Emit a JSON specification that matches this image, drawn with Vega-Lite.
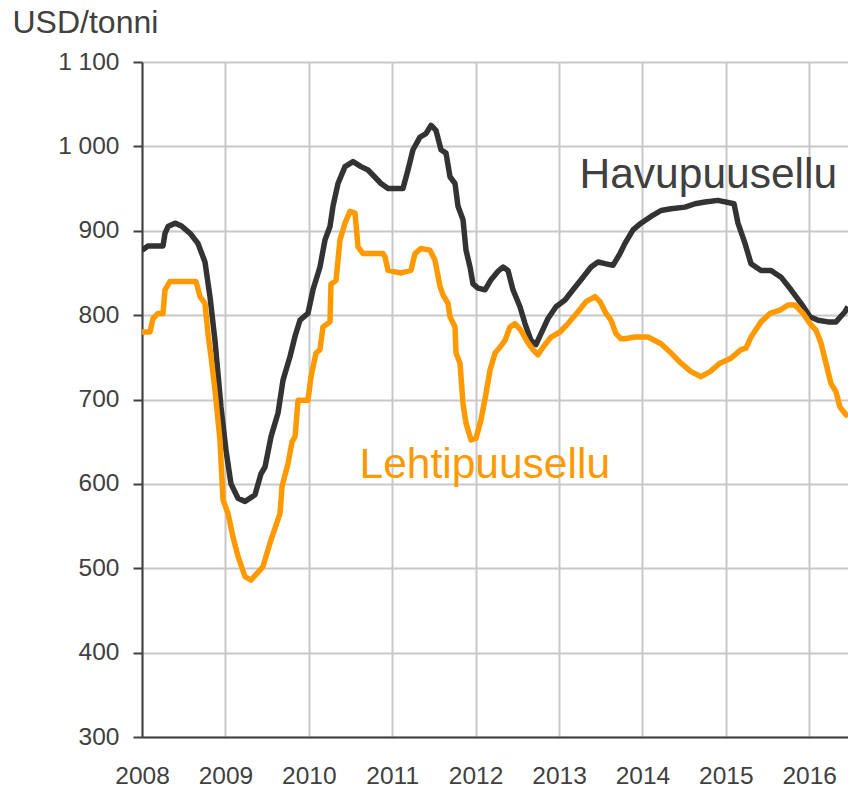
{
  "$schema": "https://vega.github.io/schema/vega-lite/v6.json",
  "width": 706,
  "height": 675,
  "autosize": {"type": "none"},
  "padding": {"left": 142, "top": 62, "right": 0, "bottom": 52},
  "background": "white",
  "config": {
    "view": {"stroke": null},
    "font": "Liberation Sans",
    "axis": {
      "labelFont": "Liberation Sans",
      "titleFont": "Liberation Sans",
      "labelColor": "#404040",
      "labelFontSize": 24.5,
      "gridColor": "#c8c8c8",
      "gridWidth": 2,
      "domainColor": "#404040",
      "domainWidth": 2,
      "tickColor": "#404040",
      "tickWidth": 2
    }
  },
  "datasets": {
    "prices": [
      {"series": "Havupuusellu", "t": 2008.000, "v": 877},
      {"series": "Havupuusellu", "t": 2008.072, "v": 882},
      {"series": "Havupuusellu", "t": 2008.252, "v": 882},
      {"series": "Havupuusellu", "t": 2008.276, "v": 897},
      {"series": "Havupuusellu", "t": 2008.312, "v": 905},
      {"series": "Havupuusellu", "t": 2008.396, "v": 909},
      {"series": "Havupuusellu", "t": 2008.468, "v": 906},
      {"series": "Havupuusellu", "t": 2008.576, "v": 897},
      {"series": "Havupuusellu", "t": 2008.671, "v": 885},
      {"series": "Havupuusellu", "t": 2008.755, "v": 863},
      {"series": "Havupuusellu", "t": 2008.815, "v": 822},
      {"series": "Havupuusellu", "t": 2008.875, "v": 770},
      {"series": "Havupuusellu", "t": 2008.947, "v": 691},
      {"series": "Havupuusellu", "t": 2009.007, "v": 640},
      {"series": "Havupuusellu", "t": 2009.067, "v": 600},
      {"series": "Havupuusellu", "t": 2009.151, "v": 583},
      {"series": "Havupuusellu", "t": 2009.235, "v": 579},
      {"series": "Havupuusellu", "t": 2009.355, "v": 587},
      {"series": "Havupuusellu", "t": 2009.427, "v": 612},
      {"series": "Havupuusellu", "t": 2009.475, "v": 620},
      {"series": "Havupuusellu", "t": 2009.547, "v": 656},
      {"series": "Havupuusellu", "t": 2009.631, "v": 684},
      {"series": "Havupuusellu", "t": 2009.691, "v": 723},
      {"series": "Havupuusellu", "t": 2009.775, "v": 751},
      {"series": "Havupuusellu", "t": 2009.835, "v": 775},
      {"series": "Havupuusellu", "t": 2009.894, "v": 794},
      {"series": "Havupuusellu", "t": 2009.990, "v": 802},
      {"series": "Havupuusellu", "t": 2010.050, "v": 830},
      {"series": "Havupuusellu", "t": 2010.134, "v": 857},
      {"series": "Havupuusellu", "t": 2010.194, "v": 889},
      {"series": "Havupuusellu", "t": 2010.254, "v": 905},
      {"series": "Havupuusellu", "t": 2010.290, "v": 929},
      {"series": "Havupuusellu", "t": 2010.350, "v": 956},
      {"series": "Havupuusellu", "t": 2010.434, "v": 976},
      {"series": "Havupuusellu", "t": 2010.530, "v": 982},
      {"series": "Havupuusellu", "t": 2010.626, "v": 976},
      {"series": "Havupuusellu", "t": 2010.710, "v": 972},
      {"series": "Havupuusellu", "t": 2010.866, "v": 956},
      {"series": "Havupuusellu", "t": 2010.950, "v": 950},
      {"series": "Havupuusellu", "t": 2011.129, "v": 950},
      {"series": "Havupuusellu", "t": 2011.189, "v": 972},
      {"series": "Havupuusellu", "t": 2011.249, "v": 996},
      {"series": "Havupuusellu", "t": 2011.333, "v": 1011},
      {"series": "Havupuusellu", "t": 2011.405, "v": 1015},
      {"series": "Havupuusellu", "t": 2011.465, "v": 1025},
      {"series": "Havupuusellu", "t": 2011.525, "v": 1019},
      {"series": "Havupuusellu", "t": 2011.585, "v": 996},
      {"series": "Havupuusellu", "t": 2011.645, "v": 992},
      {"series": "Havupuusellu", "t": 2011.693, "v": 964},
      {"series": "Havupuusellu", "t": 2011.753, "v": 956},
      {"series": "Havupuusellu", "t": 2011.789, "v": 929},
      {"series": "Havupuusellu", "t": 2011.849, "v": 913},
      {"series": "Havupuusellu", "t": 2011.885, "v": 877},
      {"series": "Havupuusellu", "t": 2011.933, "v": 857},
      {"series": "Havupuusellu", "t": 2011.969, "v": 837},
      {"series": "Havupuusellu", "t": 2012.029, "v": 832},
      {"series": "Havupuusellu", "t": 2012.113, "v": 830},
      {"series": "Havupuusellu", "t": 2012.185, "v": 842},
      {"series": "Havupuusellu", "t": 2012.269, "v": 852},
      {"series": "Havupuusellu", "t": 2012.329, "v": 857},
      {"series": "Havupuusellu", "t": 2012.388, "v": 853},
      {"series": "Havupuusellu", "t": 2012.448, "v": 830},
      {"series": "Havupuusellu", "t": 2012.532, "v": 810},
      {"series": "Havupuusellu", "t": 2012.592, "v": 790},
      {"series": "Havupuusellu", "t": 2012.664, "v": 770},
      {"series": "Havupuusellu", "t": 2012.724, "v": 765},
      {"series": "Havupuusellu", "t": 2012.784, "v": 778},
      {"series": "Havupuusellu", "t": 2012.868, "v": 796},
      {"series": "Havupuusellu", "t": 2012.964, "v": 810},
      {"series": "Havupuusellu", "t": 2013.072, "v": 818},
      {"series": "Havupuusellu", "t": 2013.168, "v": 830},
      {"series": "Havupuusellu", "t": 2013.264, "v": 842},
      {"series": "Havupuusellu", "t": 2013.384, "v": 857},
      {"series": "Havupuusellu", "t": 2013.468, "v": 863},
      {"series": "Havupuusellu", "t": 2013.552, "v": 861},
      {"series": "Havupuusellu", "t": 2013.647, "v": 859},
      {"series": "Havupuusellu", "t": 2013.731, "v": 873},
      {"series": "Havupuusellu", "t": 2013.791, "v": 885},
      {"series": "Havupuusellu", "t": 2013.887, "v": 901},
      {"series": "Havupuusellu", "t": 2013.983, "v": 909},
      {"series": "Havupuusellu", "t": 2014.103, "v": 917},
      {"series": "Havupuusellu", "t": 2014.223, "v": 924},
      {"series": "Havupuusellu", "t": 2014.343, "v": 926},
      {"series": "Havupuusellu", "t": 2014.511, "v": 928},
      {"series": "Havupuusellu", "t": 2014.631, "v": 932},
      {"series": "Havupuusellu", "t": 2014.751, "v": 934},
      {"series": "Havupuusellu", "t": 2014.906, "v": 936},
      {"series": "Havupuusellu", "t": 2015.098, "v": 932},
      {"series": "Havupuusellu", "t": 2015.146, "v": 909},
      {"series": "Havupuusellu", "t": 2015.230, "v": 885},
      {"series": "Havupuusellu", "t": 2015.302, "v": 861},
      {"series": "Havupuusellu", "t": 2015.422, "v": 853},
      {"series": "Havupuusellu", "t": 2015.542, "v": 853},
      {"series": "Havupuusellu", "t": 2015.662, "v": 845},
      {"series": "Havupuusellu", "t": 2015.782, "v": 830},
      {"series": "Havupuusellu", "t": 2015.902, "v": 814},
      {"series": "Havupuusellu", "t": 2016.010, "v": 798},
      {"series": "Havupuusellu", "t": 2016.106, "v": 794},
      {"series": "Havupuusellu", "t": 2016.225, "v": 792},
      {"series": "Havupuusellu", "t": 2016.321, "v": 792},
      {"series": "Havupuusellu", "t": 2016.429, "v": 804},
      {"series": "Havupuusellu", "t": 2016.465, "v": 810},
      {"series": "Lehtipuusellu", "t": 2008.000, "v": 780},
      {"series": "Lehtipuusellu", "t": 2008.096, "v": 780},
      {"series": "Lehtipuusellu", "t": 2008.132, "v": 796},
      {"series": "Lehtipuusellu", "t": 2008.192, "v": 802},
      {"series": "Lehtipuusellu", "t": 2008.252, "v": 802},
      {"series": "Lehtipuusellu", "t": 2008.276, "v": 830},
      {"series": "Lehtipuusellu", "t": 2008.336, "v": 840},
      {"series": "Lehtipuusellu", "t": 2008.647, "v": 840},
      {"series": "Lehtipuusellu", "t": 2008.695, "v": 822},
      {"series": "Lehtipuusellu", "t": 2008.755, "v": 814},
      {"series": "Lehtipuusellu", "t": 2008.791, "v": 778},
      {"series": "Lehtipuusellu", "t": 2008.827, "v": 751},
      {"series": "Lehtipuusellu", "t": 2008.875, "v": 711},
      {"series": "Lehtipuusellu", "t": 2008.935, "v": 652},
      {"series": "Lehtipuusellu", "t": 2008.971, "v": 581},
      {"series": "Lehtipuusellu", "t": 2009.031, "v": 565},
      {"series": "Lehtipuusellu", "t": 2009.091, "v": 537},
      {"series": "Lehtipuusellu", "t": 2009.151, "v": 514},
      {"series": "Lehtipuusellu", "t": 2009.235, "v": 490},
      {"series": "Lehtipuusellu", "t": 2009.307, "v": 486},
      {"series": "Lehtipuusellu", "t": 2009.379, "v": 494},
      {"series": "Lehtipuusellu", "t": 2009.451, "v": 502},
      {"series": "Lehtipuusellu", "t": 2009.535, "v": 530},
      {"series": "Lehtipuusellu", "t": 2009.655, "v": 565},
      {"series": "Lehtipuusellu", "t": 2009.679, "v": 597},
      {"series": "Lehtipuusellu", "t": 2009.751, "v": 624},
      {"series": "Lehtipuusellu", "t": 2009.799, "v": 650},
      {"series": "Lehtipuusellu", "t": 2009.835, "v": 656},
      {"series": "Lehtipuusellu", "t": 2009.871, "v": 699},
      {"series": "Lehtipuusellu", "t": 2009.990, "v": 699},
      {"series": "Lehtipuusellu", "t": 2010.026, "v": 727},
      {"series": "Lehtipuusellu", "t": 2010.086, "v": 755},
      {"series": "Lehtipuusellu", "t": 2010.134, "v": 759},
      {"series": "Lehtipuusellu", "t": 2010.170, "v": 786},
      {"series": "Lehtipuusellu", "t": 2010.254, "v": 792},
      {"series": "Lehtipuusellu", "t": 2010.266, "v": 837},
      {"series": "Lehtipuusellu", "t": 2010.326, "v": 841},
      {"series": "Lehtipuusellu", "t": 2010.374, "v": 889},
      {"series": "Lehtipuusellu", "t": 2010.434, "v": 909},
      {"series": "Lehtipuusellu", "t": 2010.494, "v": 923},
      {"series": "Lehtipuusellu", "t": 2010.554, "v": 921},
      {"series": "Lehtipuusellu", "t": 2010.590, "v": 881},
      {"series": "Lehtipuusellu", "t": 2010.650, "v": 873},
      {"series": "Lehtipuusellu", "t": 2010.890, "v": 873},
      {"series": "Lehtipuusellu", "t": 2010.914, "v": 869},
      {"series": "Lehtipuusellu", "t": 2010.950, "v": 853},
      {"series": "Lehtipuusellu", "t": 2011.106, "v": 850},
      {"series": "Lehtipuusellu", "t": 2011.225, "v": 853},
      {"series": "Lehtipuusellu", "t": 2011.273, "v": 873},
      {"series": "Lehtipuusellu", "t": 2011.345, "v": 879},
      {"series": "Lehtipuusellu", "t": 2011.453, "v": 877},
      {"series": "Lehtipuusellu", "t": 2011.513, "v": 865},
      {"series": "Lehtipuusellu", "t": 2011.573, "v": 834},
      {"series": "Lehtipuusellu", "t": 2011.609, "v": 824},
      {"series": "Lehtipuusellu", "t": 2011.669, "v": 814},
      {"series": "Lehtipuusellu", "t": 2011.693, "v": 798},
      {"series": "Lehtipuusellu", "t": 2011.753, "v": 786},
      {"series": "Lehtipuusellu", "t": 2011.765, "v": 755},
      {"series": "Lehtipuusellu", "t": 2011.813, "v": 743},
      {"series": "Lehtipuusellu", "t": 2011.849, "v": 695},
      {"series": "Lehtipuusellu", "t": 2011.885, "v": 672},
      {"series": "Lehtipuusellu", "t": 2011.945, "v": 652},
      {"series": "Lehtipuusellu", "t": 2012.005, "v": 654},
      {"series": "Lehtipuusellu", "t": 2012.065, "v": 676},
      {"series": "Lehtipuusellu", "t": 2012.125, "v": 707},
      {"series": "Lehtipuusellu", "t": 2012.173, "v": 735},
      {"series": "Lehtipuusellu", "t": 2012.233, "v": 755},
      {"series": "Lehtipuusellu", "t": 2012.293, "v": 762},
      {"series": "Lehtipuusellu", "t": 2012.353, "v": 770},
      {"series": "Lehtipuusellu", "t": 2012.412, "v": 786},
      {"series": "Lehtipuusellu", "t": 2012.472, "v": 790},
      {"series": "Lehtipuusellu", "t": 2012.544, "v": 782},
      {"series": "Lehtipuusellu", "t": 2012.628, "v": 767},
      {"series": "Lehtipuusellu", "t": 2012.688, "v": 759},
      {"series": "Lehtipuusellu", "t": 2012.748, "v": 753},
      {"series": "Lehtipuusellu", "t": 2012.808, "v": 762},
      {"series": "Lehtipuusellu", "t": 2012.904, "v": 774},
      {"series": "Lehtipuusellu", "t": 2013.012, "v": 780},
      {"series": "Lehtipuusellu", "t": 2013.108, "v": 790},
      {"series": "Lehtipuusellu", "t": 2013.228, "v": 804},
      {"series": "Lehtipuusellu", "t": 2013.324, "v": 816},
      {"series": "Lehtipuusellu", "t": 2013.432, "v": 822},
      {"series": "Lehtipuusellu", "t": 2013.492, "v": 816},
      {"series": "Lehtipuusellu", "t": 2013.564, "v": 802},
      {"series": "Lehtipuusellu", "t": 2013.624, "v": 794},
      {"series": "Lehtipuusellu", "t": 2013.683, "v": 778},
      {"series": "Lehtipuusellu", "t": 2013.743, "v": 772},
      {"series": "Lehtipuusellu", "t": 2013.791, "v": 772},
      {"series": "Lehtipuusellu", "t": 2013.911, "v": 774},
      {"series": "Lehtipuusellu", "t": 2014.067, "v": 774},
      {"series": "Lehtipuusellu", "t": 2014.223, "v": 766},
      {"series": "Lehtipuusellu", "t": 2014.343, "v": 755},
      {"series": "Lehtipuusellu", "t": 2014.463, "v": 743},
      {"series": "Lehtipuusellu", "t": 2014.583, "v": 733},
      {"series": "Lehtipuusellu", "t": 2014.703, "v": 727},
      {"series": "Lehtipuusellu", "t": 2014.811, "v": 733},
      {"series": "Lehtipuusellu", "t": 2014.930, "v": 743},
      {"series": "Lehtipuusellu", "t": 2015.062, "v": 749},
      {"series": "Lehtipuusellu", "t": 2015.182, "v": 759},
      {"series": "Lehtipuusellu", "t": 2015.242, "v": 761},
      {"series": "Lehtipuusellu", "t": 2015.302, "v": 774},
      {"series": "Lehtipuusellu", "t": 2015.422, "v": 792},
      {"series": "Lehtipuusellu", "t": 2015.530, "v": 802},
      {"series": "Lehtipuusellu", "t": 2015.650, "v": 806},
      {"series": "Lehtipuusellu", "t": 2015.746, "v": 812},
      {"series": "Lehtipuusellu", "t": 2015.830, "v": 812},
      {"series": "Lehtipuusellu", "t": 2015.926, "v": 802},
      {"series": "Lehtipuusellu", "t": 2016.010, "v": 790},
      {"series": "Lehtipuusellu", "t": 2016.082, "v": 782},
      {"series": "Lehtipuusellu", "t": 2016.141, "v": 767},
      {"series": "Lehtipuusellu", "t": 2016.201, "v": 743},
      {"series": "Lehtipuusellu", "t": 2016.261, "v": 719},
      {"series": "Lehtipuusellu", "t": 2016.321, "v": 709},
      {"series": "Lehtipuusellu", "t": 2016.369, "v": 691},
      {"series": "Lehtipuusellu", "t": 2016.441, "v": 682},
      {"series": "Lehtipuusellu", "t": 2016.465, "v": 680}
    ],
    "labels": [
      {"series": "Havupuusellu", "t": 2014.79, "v": 966},
      {"series": "Lehtipuusellu", "t": 2012.11, "v": 622}
    ]
  },
  "encoding": {
    "x": {
      "field": "t",
      "type": "quantitative",
      "scale": {"domain": [2008, 2016.465], "nice": false, "zero": false},
      "axis": {
        "title": null,
        "values": [2008, 2009, 2010, 2011, 2012, 2013, 2014, 2015, 2016],
        "format": "d",
        "ticks": false,
        "labelPadding": 27,
        "labelFlush": false
      }
    },
    "y": {
      "field": "v",
      "type": "quantitative",
      "scale": {"domain": [300, 1100], "nice": false, "zero": false},
      "axis": {
        "title": "USD/tonni",
        "titleAngle": 0,
        "titleAlign": "left",
        "titleBaseline": "middle",
        "titleX": -130,
        "titleY": -40,
        "titleFontSize": 32,
        "titleFontWeight": "normal",
        "titleColor": "#404040",
        "values": [300, 400, 500, 600, 700, 800, 900, 1000, 1100],
        "labelExpr": "replace(format(datum.value, ','), ',', ' ')",
        "tickSize": 9,
        "labelPadding": 14
      }
    },
    "color": {
      "field": "series",
      "type": "nominal",
      "scale": {"domain": ["Havupuusellu", "Lehtipuusellu"], "range": ["#333333", "#FF9900"]},
      "legend": null
    }
  },
  "layer": [
    {
      "data": {"name": "prices"},
      "mark": {"type": "line", "strokeWidth": 5.5, "clip": true, "strokeJoin": "round"},
      "encoding": {"detail": {"field": "series"}}
    },
    {
      "data": {"name": "labels"},
      "mark": {"type": "text", "fontSize": 42.5, "align": "center", "baseline": "middle", "font": "Liberation Sans"},
      "encoding": {
        "text": {"field": "series"},
        "color": {
          "field": "series",
          "type": "nominal",
          "scale": {"domain": ["Havupuusellu", "Lehtipuusellu"], "range": ["#404040", "#FF9900"]},
          "legend": null
        }
      }
    }
  ],
  "resolve": {"scale": {"color": "independent"}}
}
